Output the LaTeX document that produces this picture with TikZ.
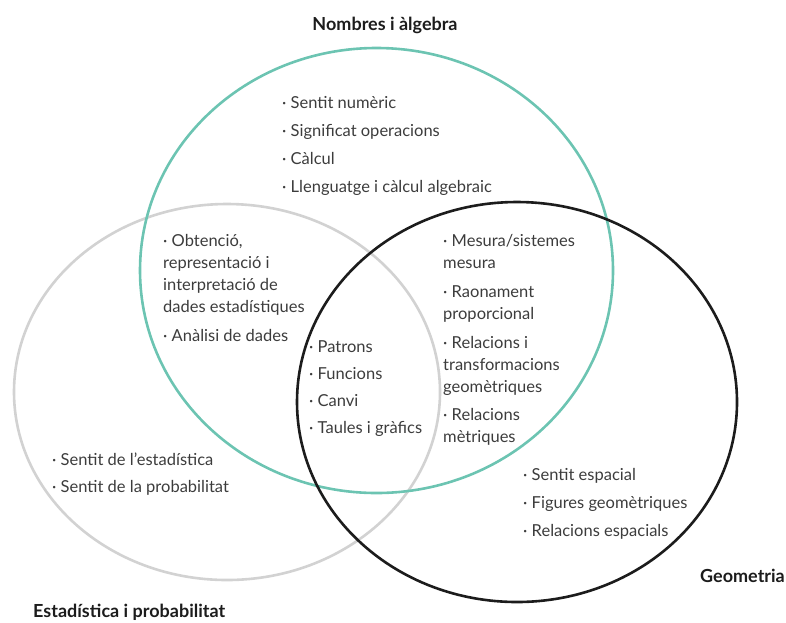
\documentclass[tikz,border=0pt]{standalone}
\usepackage{fontspec}
\setmainfont{Lato}
\definecolor{tealc}{HTML}{6CC4B2}
\definecolor{greyc}{HTML}{D2D2D2}
\definecolor{blackc}{HTML}{1C1C1C}
\definecolor{txtc}{HTML}{3C3C3C}
\newcommand{\pt}{\textperiodcentered~}
\tikzset{
  ring/.style={line width=2.6pt},
  items/.style={anchor=north west,inner sep=0pt,align=left,text=txtc,
    font=\fontsize{16.5}{22}\selectfont},
  title/.style={inner sep=0pt,text=blackc,font=\fontsize{18}{20}\selectfont\bfseries}
}
\begin{document}
\begin{tikzpicture}[x=1pt,y=-1pt]
\useasboundingbox (0,0) rectangle (786,622);
\draw[ring,greyc] (227,392) ellipse (213 and 188);
\draw[ring,tealc] (376.5,270.5) ellipse (236.5 and 222.5);
\draw[ring,blackc] (517,402) ellipse (220 and 200);
% titles
\node[title] (tn) at (385,25) {Nombres i àlgebra};
\node[title,anchor=west] (te) at (33,612) {Estadística i probabilitat};
\node[title,anchor=west] (tg) at (700,576) {Geometria};
% lists
\node[items] (ln) at (282,96) {\pt Sentit numèric\\[6pt]\pt Significat operacions\\[6pt]\pt Càlcul\\[6pt]\pt Llenguatge i càlcul algebraic};
\node[items] (lne) at (163,234) {\pt Obtenció,\\representació i\\interpretació de\\dades estadístiques\\[7pt]\pt Anàlisi de dades};
\node[items] (lng) at (443,234) {\pt Mesura/sistemes\\mesura\\[7pt]\pt Raonament\\proporcional\\[7pt]\pt Relacions i\\transformacions\\geomètriques\\[6pt]\pt Relacions\\mètriques};
\node[items] (lc) at (309,340) {\pt Patrons\\[5pt]\pt Funcions\\[5pt]\pt Canvi\\[5pt]\pt Taules i gràfics};
\node[items] (le) at (52,453) {\pt Sentit de l’estadística\\[5pt]\pt Sentit de la probabilitat};
\node[items] (lg) at (523,468) {\pt Sentit espacial\\[6pt]\pt Figures geomètriques\\[6pt]\pt Relacions espacials};
\end{tikzpicture}
\end{document}
